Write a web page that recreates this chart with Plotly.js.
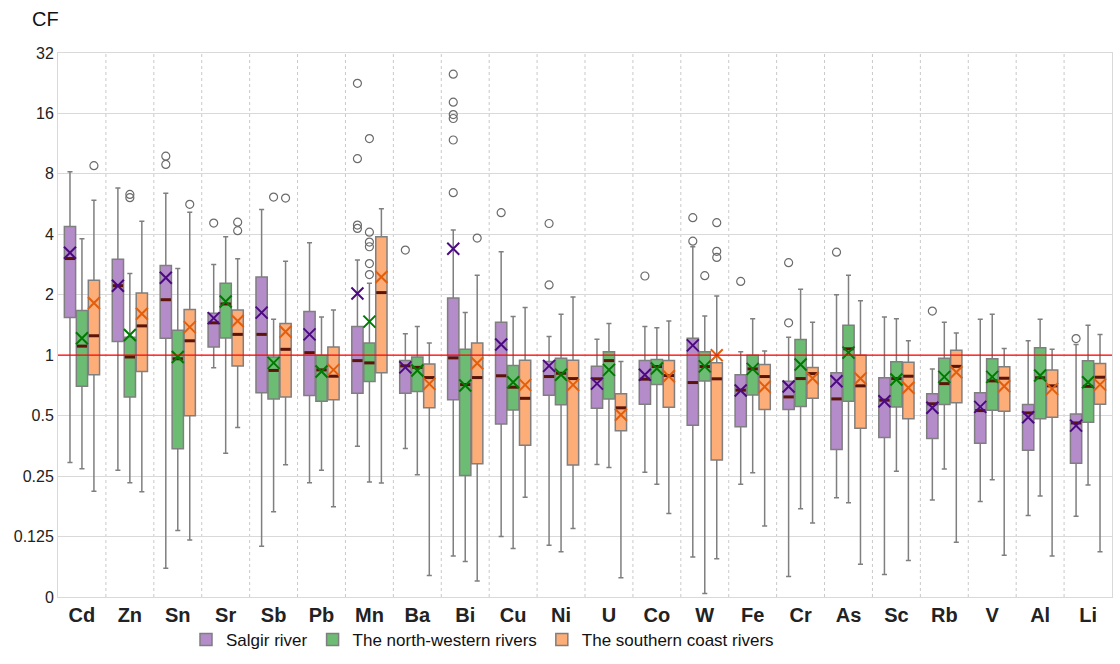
<!DOCTYPE html>
<html>
<head>
<meta charset="utf-8">
<script src="https://cdn.plot.ly/plotly-3.0.1.min.js"></script>
<style>html,body{margin:0;padding:0;background:#fff;}#chart{width:1120px;height:664px;}</style>
</head>
<body>
<div id="chart"></div>
<script>
// ---- Data (CF values) ----
const elements = ["Cd","Zn","Sn","Sr","Sb","Pb","Mn","Ba","Bi","Cu","Ni","U","Co","W","Fe","Cr","As","Sc","Rb","V","Al","Li"];
const seriesNames = ["Salgir river", "The north-western rivers", "The southern coast rivers"];

// Salgir river
const salgirLow   = [0.292,0.267,0.087,0.865,0.112,0.232,0.352,0.343,0.100,0.125,0.113,0.286,0.261,0.099,0.228,0.079,0.195,0.081,0.190,0.187,0.159,0.158];
const salgirQ1    = [1.54,1.17,1.215,1.10,0.65,0.63,0.646,0.646,0.60,0.455,0.632,0.545,0.57,0.448,0.44,0.536,0.339,0.389,0.385,0.364,0.336,0.29];
const salgirMed   = [3.03,2.22,1.89,1.45,1.27,1.03,0.94,0.885,0.97,0.79,0.783,0.763,0.76,0.731,0.67,0.62,0.606,0.597,0.573,0.53,0.516,0.46];
const salgirQ3    = [4.37,3.01,2.80,1.62,2.45,1.65,1.39,0.94,1.93,1.46,0.93,0.88,0.94,1.215,0.80,0.742,0.817,0.772,0.642,0.65,0.568,0.51];
const salgirHigh  = [8.2,6.8,6.4,2.83,5.32,3.63,2.98,1.28,4.2,3.28,1.24,1.20,1.39,3.47,1.04,1.23,2.0,1.55,0.855,1.51,1.18,1.13];
const salgirMean  = [3.24,2.22,2.43,1.53,1.63,1.27,2.03,0.87,3.39,1.13,0.885,0.722,0.80,1.12,0.667,0.698,0.742,0.59,0.547,0.553,0.491,0.446];
const salgirOutEl = ["Sn","Sn","Sr","Mn","Mn","Mn","Mn","Ba","Bi","Bi","Bi","Bi","Bi","Bi","Cu","Ni","Ni","Co","W","W","Fe","Cr","Cr","As","Rb","Li"];
const salgirOutV  = [9.8,8.92,4.55,22.6,9.53,4.45,4.28,3.34,25.1,18.2,15.8,15.1,11.8,6.45,5.13,4.53,2.24,2.48,4.84,3.70,2.33,2.89,1.45,3.26,1.66,1.21];

// The north-western rivers
const nwLow   = [0.272,0.232,0.134,0.325,0.166,0.267,0.234,0.254,0.094,0.109,0.105,0.276,0.228,0.065,0.26,0.172,0.184,0.264,0.271,0.24,0.199,0.226];
const nwQ1    = [0.70,0.62,0.342,1.22,0.606,0.59,0.74,0.66,0.252,0.534,0.566,0.606,0.714,0.745,0.634,0.555,0.59,0.553,0.568,0.532,0.482,0.463];
const nwMed   = [1.11,0.98,0.96,1.80,0.84,0.845,0.916,0.87,0.714,0.693,0.813,0.94,0.878,0.878,0.855,0.765,1.076,0.765,0.722,0.745,0.772,0.70];
const nwQ3    = [1.67,1.23,1.33,2.28,0.98,1.0,1.15,0.98,1.07,0.89,0.966,1.04,0.952,1.04,1.0,1.197,1.41,0.927,0.966,0.96,1.088,0.938];
const nwHigh  = [3.80,2.55,2.70,3.89,1.51,1.55,2.28,1.39,1.63,1.56,1.60,1.44,1.37,1.57,1.52,2.13,2.50,1.52,1.46,1.60,1.51,1.41];
const nwMean  = [1.215,1.26,0.98,1.85,0.916,0.83,1.47,0.84,0.706,0.734,0.80,0.845,0.858,0.88,0.855,0.899,1.03,0.757,0.78,0.78,0.792,0.734];
const nwOutEl = ["Zn","Zn","Sb","Mn","Mn","Mn","Mn","Mn","Mn","W"];
const nwOutV  = [6.32,6.09,6.13,12.0,4.10,3.66,3.47,2.86,2.52,2.49];

// The southern coast rivers
const scLow   = [0.21,0.209,0.12,0.436,0.285,0.176,0.231,0.080,0.075,0.196,0.137,0.078,0.163,0.097,0.141,0.146,0.091,0.095,0.117,0.101,0.10,0.105];
const scQ1    = [0.80,0.83,0.50,0.885,0.62,0.60,0.817,0.547,0.288,0.356,0.284,0.421,0.55,0.301,0.536,0.61,0.433,0.482,0.579,0.526,0.491,0.57];
const scMed   = [1.25,1.40,1.18,1.27,1.07,0.786,2.05,0.774,0.774,0.61,0.765,0.547,0.792,0.763,0.783,0.81,0.704,0.786,0.88,0.768,0.704,0.777];
const scQ3    = [2.36,2.04,1.69,1.68,1.44,1.10,3.89,0.905,1.15,0.944,0.944,0.642,0.94,0.916,0.899,0.868,1.0,0.923,1.06,0.875,0.845,0.909];
const scHigh  = [5.92,4.65,5.16,3.02,2.94,1.68,5.37,1.15,2.50,1.73,1.95,0.93,1.48,1.97,1.05,1.46,1.87,1.18,1.29,1.08,1.07,1.27];
const scMean  = [1.82,1.61,1.38,1.48,1.31,0.845,2.45,0.72,0.912,0.712,0.712,0.505,0.786,1.0,0.696,0.768,0.765,0.688,0.823,0.70,0.68,0.714];
const scOutEl = ["Cd","Sn","Sr","Sr","Sb","Bi","W","W","W"];
const scOutV  = [8.79,5.64,4.6,4.17,6.06,3.83,4.57,3.29,3.07];

// Y tick labels (log2 scale; bottom tick labelled "0")
const yTickVals = [0.0625,0.125,0.25,0.5,1,2,4,8,16,32];
const yTickText = ["0","0.125","0.25","0.5","1","2","4","8","16","32"];

// ---- Styling ----
const fills = ["#b48cc9","#6cbc74","#fdad78"];
const meanColors = ["#4b0a82","#007a00","#e35d0a"];
const offsets = [-0.25, 0, 0.25];
const boxW = 0.235;
const outline = "#7f7f7f";
const medianColor = "#5a1408";
const baseFont = "'Liberation Sans', Arial, sans-serif";

const series = [
  {low:salgirLow,q1:salgirQ1,med:salgirMed,q3:salgirQ3,high:salgirHigh,mean:salgirMean,outEl:salgirOutEl,outV:salgirOutV},
  {low:nwLow,q1:nwQ1,med:nwMed,q3:nwQ3,high:nwHigh,mean:nwMean,outEl:nwOutEl,outV:nwOutV},
  {low:scLow,q1:scQ1,med:scMed,q3:scQ3,high:scHigh,mean:scMean,outEl:scOutEl,outV:scOutV}
];

const traces = [];
const extra = [];
series.forEach((s, k) => {
  const pos = elements.map((_, i) => i + offsets[k]);
  traces.push({
    type: "box", name: seriesNames[k], x: pos,
    lowerfence: s.low, q1: s.q1, median: s.med, q3: s.q3, upperfence: s.high,
    boxpoints: false, width: boxW, whiskerwidth: 0.45,
    fillcolor: fills[k], line: {color: outline, width: 1.5},
    legendgroup: "g" + k, hoverinfo: "y"
  });
  // median bars
  const mx = [], my = [];
  pos.forEach((p, i) => { mx.push(p - boxW/2 + 0.01, p + boxW/2 - 0.01, null); my.push(s.med[i], s.med[i], null); });
  extra.push({type:"scatter", mode:"lines", x:mx, y:my, line:{color:medianColor, width:3},
    showlegend:false, legendgroup:"g"+k, hoverinfo:"skip"});
  // means
  extra.push({type:"scatter", mode:"markers", x:pos, y:s.mean,
    marker:{symbol:"x-thin", size:12, line:{color:meanColors[k], width:2}},
    showlegend:false, legendgroup:"g"+k, hoverinfo:"y"});
  // outliers
  extra.push({type:"scatter", mode:"markers",
    x: s.outEl.map(e => elements.indexOf(e) + offsets[k]), y: s.outV,
    marker:{symbol:"circle-open", size:8, color:"#6b6b6b", line:{width:1.2}},
    showlegend:false, legendgroup:"g"+k, hoverinfo:"y"});
});

// vertical dashed separators between element groups
const shapes = [];
for (let i = 0; i < elements.length - 1; i++) {
  shapes.push({type:"line", xref:"x", yref:"paper", x0:i+0.5, x1:i+0.5, y0:0, y1:1,
    line:{color:"#c9c9c9", width:1, dash:"dot"}, layer:"below"});
}
// reference line at CF = 1
shapes.push({type:"line", xref:"paper", yref:"y", x0:0, x1:1, y0:1, y1:1,
  line:{color:"#ff0000", width:1.2}, layer:"above"});

const layout = {
  width: 1120, height: 664,
  margin: {l:58, r:8, t:53, b:67, autoexpand:false},
  paper_bgcolor: "#ffffff", plot_bgcolor: "#ffffff",
  boxmode: "overlay",
  showlegend: true,
  title: {text:"CF", x:32/1120, xanchor:"left", xref:"container", y:1-19/664, yanchor:"middle",
    font:{family:baseFont, size:20, color:"#111"}},
  xaxis: {
    range:[-0.5, elements.length - 0.5],
    tickmode:"array", tickvals: elements.map((_, i) => i), ticktext: elements,
    tickfont:{family:baseFont, size:20, color:"#222", weight:"bold"},
    showgrid:false, zeroline:false, showline:true, mirror:true, linecolor:"#d9d9d9", linewidth:1, ticks:""
  },
  yaxis: {
    type:"log", range:[Math.log10(0.0625), Math.log10(32)],
    tickmode:"array", tickvals:yTickVals, ticktext:yTickText,
    tickfont:{family:baseFont, size:16, color:"#222"},
    showgrid:true, gridcolor:"#d9d9d9", gridwidth:1, zeroline:false,
    showline:true, mirror:true, linecolor:"#d9d9d9", linewidth:1, ticks:""
  },
  legend: {orientation:"h", xref:"container", x:186/1120, xanchor:"left",
    yref:"container", y:1-622/664, yanchor:"top",
    font:{family:baseFont, size:17, color:"#111"}, itemwidth:30, tracegroupgap:0,
    bgcolor:"rgba(0,0,0,0)"},
  shapes: shapes
};

Plotly.newPlot("chart", traces.concat(extra), layout, {displayModeBar:false, staticPlot:true});
</script>
</body>
</html>
